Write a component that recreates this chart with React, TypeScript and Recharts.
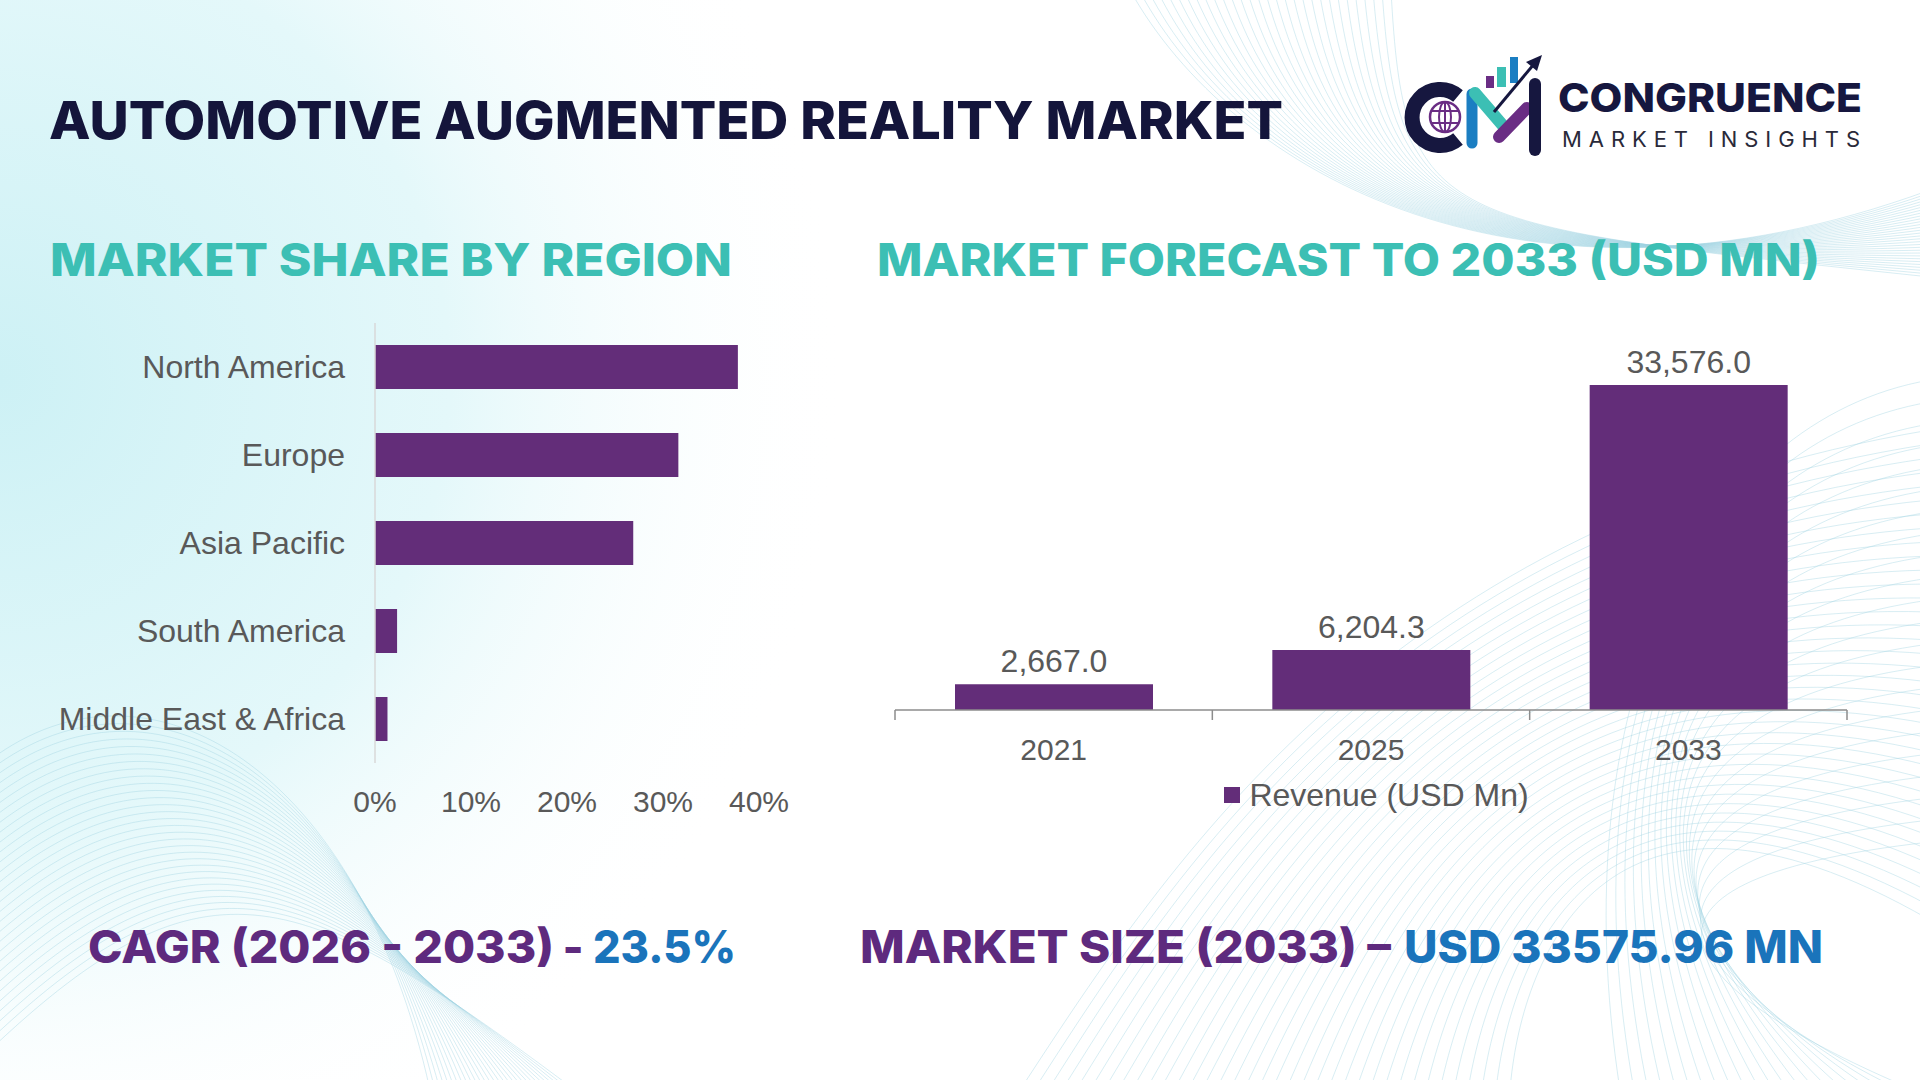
import React from 'react';
import { BarChart, Bar, XAxis, YAxis, LabelList, Legend } from 'recharts';

// Regional share of the market (percent)
const regions = ['North America', 'Europe', 'Asia Pacific', 'South America', 'Middle East & Africa'];
const regionShare = [37.8, 31.6, 26.9, 2.3, 1.3];
const shareTicks = [0, 10, 20, 30, 40];

// Revenue forecast (USD Mn)
const years = ['2021', '2025', '2033'];
const revenue = [2667.0, 6204.3, 33576.0];
const seriesName = 'Revenue (USD Mn)';

const regionData = regions.map((region, i) => ({ region, share: regionShare[i] }));
const revenueData = years.map((year, i) => ({ year, revenue: revenue[i] }));

const BAR = '#632d79';
const TEXT_GRAY = '#595959';
const AXIS_GRAY = '#8c8c8c';
const NAVY = '#14153b';
const TEAL = '#3cbfb4';
const PURPLE = '#5e2a7e';
const BLUE = '#1a74bb';
const CHART_FONT = '"Liberation Sans", Arial, sans-serif';
const HEAD_FONT = 'Inter, "Open Sans", sans-serif';

// forecast chart geometry
const FC_W = 1040;
const FC_H = 540;
const FC_MARGIN = { top: 85, right: 53, bottom: 20, left: 35 };
const HALF_BAND = (FC_W - FC_MARGIN.left - FC_MARGIN.right) / years.length / 2;

const fmtRevenue = (v: number) =>
  v.toLocaleString('en-US', { minimumFractionDigits: 1, maximumFractionDigits: 1 });

// category labels centred, tick marks sit between categories
const YearTick = (props: any) => {
  const { x, y, payload, index } = props;
  return (
    <g>
      <line x1={x - HALF_BAND} x2={x - HALF_BAND} y1={y} y2={y + 10} stroke={AXIS_GRAY} strokeWidth={1.5} />
      {index === years.length - 1 && (
        <line x1={x + HALF_BAND} x2={x + HALF_BAND} y1={y} y2={y + 10} stroke={AXIS_GRAY} strokeWidth={1.5} />
      )}
      <text x={x} y={y + 50} textAnchor="middle" fontSize={30} fill={TEXT_GRAY} fontFamily={CHART_FONT}>
        {payload.value}
      </text>
    </g>
  );
};

const RevenueLegend = () => (
  <div style={{ display: 'flex', justifyContent: 'center', alignItems: 'center', height: 50, paddingLeft: 11 }}>
    <span style={{ width: 16, height: 16, background: BAR, marginRight: 9, display: 'inline-block' }} />
    <span style={{ fontFamily: CHART_FONT, fontSize: 32, color: TEXT_GRAY }}>{seriesName}</span>
  </div>
);

const meshLine = { fill: 'none', stroke: '#9fd2e2', strokeWidth: 0.9, opacity: 0.45 };

const Backdrop = () => {
  const topRight = Array.from({ length: 30 }, (_, i) =>
    `M ${1130 + i * 9} -10 C ${1230 + i * 6} ${170 + i * 2}, ${1520 - i * 3} ${340 - i * 4}, 1930 ${190 + i * 3}`);
  const bottomLeft = Array.from({ length: 30 }, (_, i) =>
    `M -10 ${760 + i * 10} C ${150 + i * 2} ${640 + i * 7}, ${360 - i * 2} ${770 + i * 4}, ${430 + i * 5} 1090`);
  const bottomRight = Array.from({ length: 36 }, (_, i) =>
    `M ${1020 + i * 14} 1090 C ${1170 + i * 10} ${860 + i * 3}, ${1390 + i * 6} ${520 + i * 6}, 1930 ${430 + i * 14}`);
  const arcs = Array.from({ length: 22 }, (_, i) =>
    `M 1930 ${380 + i * 22} C ${1700 - i * 6} ${420 + i * 22}, ${1560 + i * 6} ${700 + i * 14}, ${1620 + i * 14} 1090`);
  return (
    <svg width={1920} height={1080} style={{ position: 'absolute', left: 0, top: 0 }}>
      <defs>
        <radialGradient id="glow" cx={0} cy={380} r={1000} gradientUnits="userSpaceOnUse">
          <stop offset="0" stopColor="#cdf1f5" />
          <stop offset="0.45" stopColor="#e4f8fa" />
          <stop offset="0.85" stopColor="#ffffff" stopOpacity={0} />
        </radialGradient>
      </defs>
      <rect width={1920} height={1080} fill="#ffffff" />
      <rect width={1920} height={1080} fill="url(#glow)" />
      {topRight.map((d, i) => <path key={`tr${i}`} d={d} {...meshLine} />)}
      {bottomLeft.map((d, i) => <path key={`bl${i}`} d={d} {...meshLine} />)}
      {bottomRight.map((d, i) => <path key={`br${i}`} d={d} {...meshLine} />)}
      {arcs.map((d, i) => <path key={`ar${i}`} d={d} {...meshLine} />)}
    </svg>
  );
};

const Logo = () => (
  <g>
    {/* C ring */}
    <path d="M 1458 96 A 28 28 0 1 0 1458 139" fill="none" stroke="#16173f" strokeWidth={15} />
    {/* globe */}
    <circle cx={1445} cy={117} r={15} fill="#ffffff" stroke="#6a2d84" strokeWidth={2.5} />
    <ellipse cx={1445} cy={117} rx={6} ry={15} fill="none" stroke="#6a2d84" strokeWidth={2} />
    <line x1={1445} y1={102} x2={1445} y2={132} stroke="#6a2d84" strokeWidth={2} />
    <line x1={1431} y1={111} x2={1459} y2={111} stroke="#6a2d84" strokeWidth={2} />
    <line x1={1431} y1={123} x2={1459} y2={123} stroke="#6a2d84" strokeWidth={2} />
    {/* bars */}
    <rect x={1486} y={76} width={8} height={12} fill="#6a2d84" />
    <rect x={1497} y={67} width={9} height={20} fill={TEAL} />
    <rect x={1510} y={57} width={8} height={26} fill="#1b7ec2" />
    {/* M strokes */}
    <line x1={1472} y1={94} x2={1472} y2={143} stroke="#1b7ec2" strokeWidth={11} strokeLinecap="round" />
    <line x1={1475} y1={93} x2={1505} y2={128} stroke={TEAL} strokeWidth={12} strokeLinecap="round" />
    <line x1={1499} y1={137} x2={1527} y2={108} stroke="#6a2d84" strokeWidth={12} strokeLinecap="round" />
    <line x1={1535} y1={84} x2={1535} y2={150} stroke="#16173f" strokeWidth={12} strokeLinecap="round" />
    {/* arrow */}
    <line x1={1494} y1={112} x2={1534} y2={64} stroke="#16173f" strokeWidth={3} />
    <polygon points="1542,55 1526,62 1537,71" fill="#16173f" />
    <text x={1558} y={112} fontFamily={HEAD_FONT} fontWeight={800} fontSize={40} fill="#16173f"
      textLength={304} lengthAdjust="spacingAndGlyphs">CONGRUENCE</text>
    <text x={1562} y={147} fontFamily={HEAD_FONT} fontWeight={400} fontSize={22} fill="#2a2a3a"
      textLength={298} lengthAdjust="spacing">MARKET INSIGHTS</text>
  </g>
);

const Headings = () => (
  <svg width={1920} height={1080} style={{ position: 'absolute', left: 0, top: 0 }}>
    <text x={49} y={139} fontFamily={HEAD_FONT} fontWeight={800} fontSize={52} fill={NAVY}
      textLength={1234} lengthAdjust="spacingAndGlyphs">AUTOMOTIVE AUGMENTED REALITY MARKET</text>
    <Logo />
    <text x={50} y={276} fontFamily={HEAD_FONT} fontWeight={800} fontSize={45} fill={TEAL}
      textLength={682} lengthAdjust="spacingAndGlyphs">MARKET SHARE BY REGION</text>
    <text x={877} y={276} fontFamily={HEAD_FONT} fontWeight={800} fontSize={45} fill={TEAL}
      textLength={943} lengthAdjust="spacingAndGlyphs">MARKET FORECAST TO 2033 (USD MN)</text>
    <text x={88} y={963} fontFamily={HEAD_FONT} fontWeight={800} fontSize={45} fill={PURPLE}
      textLength={466} lengthAdjust="spacingAndGlyphs">CAGR (2026 - 2033)</text>
    <text x={573} y={963} textAnchor="middle" fontFamily={HEAD_FONT} fontWeight={800} fontSize={45} fill={PURPLE}>-</text>
    <text x={593} y={963} fontFamily={HEAD_FONT} fontWeight={800} fontSize={45} fill={BLUE}
      textLength={143} lengthAdjust="spacingAndGlyphs">23.5%</text>
    <text x={860} y={963} fontFamily={HEAD_FONT} fontWeight={800} fontSize={45} fill={PURPLE}
      textLength={531} lengthAdjust="spacingAndGlyphs">MARKET SIZE (2033) –</text>
    <text x={1404} y={963} fontFamily={HEAD_FONT} fontWeight={800} fontSize={45} fill={BLUE}
      textLength={419} lengthAdjust="spacingAndGlyphs">USD 33575.96 MN</text>
  </svg>
);

export default function App() {
  return (
    <div style={{ position: 'absolute', left: 0, top: 0, width: 1920, height: 1080, overflow: 'hidden', background: '#fff' }}>
      <Backdrop />
      <Headings />

      <div style={{ position: 'absolute', left: 0, top: 0 }}>
        <BarChart
          width={800}
          height={850}
          data={regionData}
          layout="vertical"
          margin={{ top: 323, right: 41, bottom: 27, left: 0 }}
        >
          <XAxis
            type="number"
            dataKey="share"
            domain={[0, 40]}
            ticks={shareTicks}
            tickFormatter={(v: number) => `${v}%`}
            axisLine={false}
            tickLine={false}
            tickSize={0}
            tickMargin={28}
            height={60}
            interval={0}
            tick={{ fontSize: 30, fill: TEXT_GRAY, fontFamily: CHART_FONT }}
          />
          <YAxis
            type="category"
            dataKey="region"
            width={375}
            axisLine={{ stroke: '#d9d9d9', strokeWidth: 1.5 }}
            tickLine={false}
            tickSize={0}
            tickMargin={30}
            interval={0}
            tick={{ fontSize: 32, fill: TEXT_GRAY, fontFamily: CHART_FONT }}
          />
          <Bar dataKey="share" fill={BAR} barSize={44} isAnimationActive={false} />
        </BarChart>
      </div>

      <div style={{ position: 'absolute', left: 860, top: 300 }}>
        <BarChart width={FC_W} height={FC_H} data={revenueData} margin={FC_MARGIN}>
          <XAxis
            dataKey="year"
            axisLine={{ stroke: AXIS_GRAY, strokeWidth: 1.5 }}
            tickLine={false}
            tickSize={0}
            tickMargin={0}
            height={60}
            interval={0}
            tick={<YearTick />}
          />
          <YAxis hide domain={[0, 'dataMax']} />
          <Legend verticalAlign="bottom" height={50} content={<RevenueLegend />} />
          <Bar dataKey="revenue" name={seriesName} fill={BAR} barSize={198} isAnimationActive={false}>
            <LabelList
              dataKey="revenue"
              position="top"
              offset={12}
              formatter={(v: any) => fmtRevenue(Number(v))}
              style={{ fontSize: 32, fill: TEXT_GRAY, fontFamily: CHART_FONT }}
            />
          </Bar>
        </BarChart>
      </div>
    </div>
  );
}
